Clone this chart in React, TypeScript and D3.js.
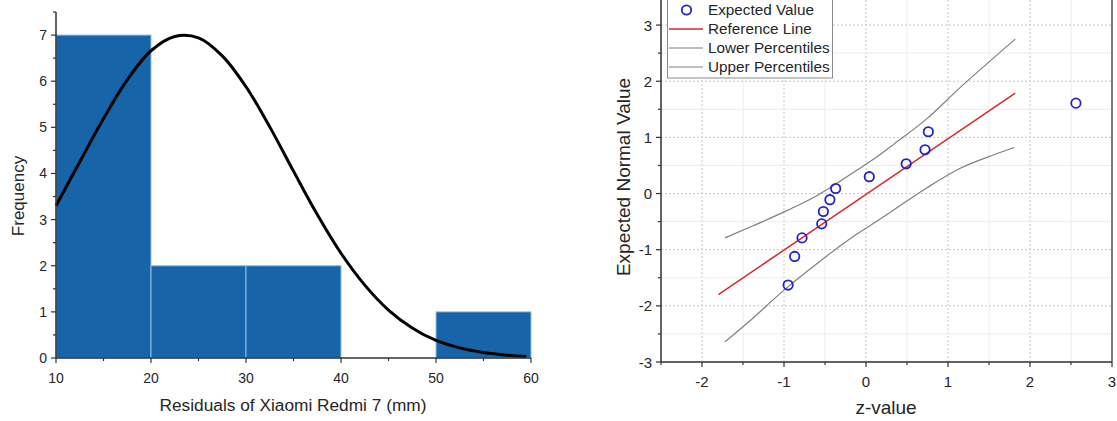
import * as d3 from 'd3';

// Histogram of residuals
const binStarts = [10, 20, 30, 40, 50];
const binEnds = [20, 30, 40, 50, 60];
const binCounts = [7, 2, 2, 0, 1];

// Normal curve drawn over the histogram
const curveX = [10, 12.5, 15, 17.5, 20, 22.5, 25, 27.5, 30, 32.5, 35, 37.5, 40, 42.5, 45, 47.5, 50, 52.5, 55, 57.5, 59.5];
const curveY = [3.3, 4.25, 5.19, 6.03, 6.66, 6.97, 6.94, 6.55, 5.88, 5.01, 4.05, 3.11, 2.27, 1.58, 1.04, 0.65, 0.38, 0.22, 0.12, 0.06, 0.03];

// Q-Q plot
const zValues = [-0.95, -0.87, -0.78, -0.54, -0.52, -0.44, -0.37, 0.04, 0.49, 0.72, 0.76, 2.56];
const expectedValues = [-1.63, -1.12, -0.79, -0.54, -0.32, -0.11, 0.09, 0.3, 0.53, 0.78, 1.1, 1.61];
const refX = [-1.8, 1.82];
const refY = [-1.8, 1.79];
const lowerX = [-1.72, -1.41, -1.0, -0.6, -0.19, 0.21, 0.74, 1.15, 1.56, 1.81];
const lowerY = [-2.64, -2.26, -1.72, -1.25, -0.8, -0.42, 0.1, 0.45, 0.69, 0.82];
const upperX = [-1.72, -1.37, -0.96, -0.64, -0.4, -0.15, 0.13, 0.34, 0.74, 1.15, 1.56, 1.82];
const upperY = [-0.79, -0.57, -0.3, -0.07, 0.14, 0.38, 0.65, 0.88, 1.33, 1.89, 2.42, 2.75];

const legendLabels = ['Expected Value', 'Reference Line', 'Lower Percentiles', 'Upper Percentiles'];

const FONT = 'Liberation Sans, Arial, sans-serif';
const AXIS = '#333';
const TEXT = '#262626';

const range = (a: number, b: number, step: number) => {
  const out: number[] = [];
  for (let v = a; v <= b + 1e-9; v += step) out.push(+v.toFixed(3));
  return out;
};

const Histogram = () => {
  const x = d3.scaleLinear().domain([10, 60]).range([56, 531]);
  const y = d3.scaleLinear().domain([0, 7.5]).range([358, 12]);

  const line = d3
    .line<number>()
    .x((_, i) => x(curveX[i]))
    .y((d) => y(d))
    .curve(d3.curveCatmullRom);

  return (
    <g fontFamily={FONT}>
      {binCounts.map((c, i) =>
        c > 0 ? (
          <rect
            key={i}
            x={x(binStarts[i])}
            y={y(c)}
            width={x(binEnds[i]) - x(binStarts[i])}
            height={y(0) - y(c)}
            fill='#1764a8'
            stroke='#8cc0ea'
            strokeWidth={1}
          />
        ) : null
      )}
      <path d={line(curveY) || ''} fill='none' stroke='#000' strokeWidth={3} />

      {/* y axis */}
      <line x1={x(10)} x2={x(10)} y1={y(0)} y2={y(7.5)} stroke={AXIS} strokeWidth={1.5} />
      {range(0, 7.5, 0.5).map((t) => {
        const major = Number.isInteger(t);
        return (
          <g key={'y' + t}>
            <line x1={x(10) - (major ? 5 : 3)} x2={x(10)} y1={y(t)} y2={y(t)} stroke={AXIS} strokeWidth={1.2} />
            {major && (
              <text x={x(10) - 9} y={y(t) + 5} fontSize={14} textAnchor='end' fill={TEXT}>
                {t}
              </text>
            )}
          </g>
        );
      })}

      {/* x axis */}
      <line x1={x(10)} x2={x(60)} y1={y(0)} y2={y(0)} stroke={AXIS} strokeWidth={1.5} />
      {range(10, 60, 5).map((t) => {
        const major = t % 10 === 0;
        return (
          <g key={'x' + t}>
            <line x1={x(t)} x2={x(t)} y1={y(0)} y2={y(0) + (major ? 5 : 3)} stroke={AXIS} strokeWidth={1.2} />
            {major && (
              <text x={x(t)} y={y(0) + 25} fontSize={14} textAnchor='middle' fill={TEXT}>
                {t}
              </text>
            )}
          </g>
        );
      })}

      <text x={293} y={411} fontSize={17.3} textAnchor='middle' fill={TEXT}>
        Residuals of Xiaomi Redmi 7 (mm)
      </text>
      <text transform='translate(24,196) rotate(-90)' fontSize={17} textAnchor='middle' fill={TEXT}>
        Frequency
      </text>
    </g>
  );
};

const QQPlot = () => {
  const x = d3.scaleLinear().domain([-2.5, 3]).range([661, 1112]);
  const y = d3.scaleLinear().domain([-3, 3.5]).range([362, -3]);

  const band = (xs: number[]) =>
    d3
      .line<number>()
      .x((_, i) => x(xs[i]))
      .y((d) => y(d))
      .curve(d3.curveMonotoneX);

  const xTicks = range(-2.5, 3, 0.5);
  const yTicks = range(-3, 3.5, 0.5);

  return (
    <g fontFamily={FONT}>
      {/* grid */}
      {xTicks.map((t) => {
        const major = Number.isInteger(t);
        return (
          <line
            key={'gx' + t}
            x1={x(t)}
            x2={x(t)}
            y1={y(-3)}
            y2={y(3.5)}
            stroke={major ? '#c8c8c8' : '#ececec'}
            strokeDasharray={major ? '2,2' : undefined}
            strokeWidth={1}
          />
        );
      })}
      {yTicks.map((t) => {
        const major = Number.isInteger(t);
        return (
          <line
            key={'gy' + t}
            x1={x(-2.5)}
            x2={x(3)}
            y1={y(t)}
            y2={y(t)}
            stroke={major ? '#c8c8c8' : '#ececec'}
            strokeDasharray={major ? '2,2' : undefined}
            strokeWidth={1}
          />
        );
      })}

      <path d={band(lowerX)(lowerY) || ''} fill='none' stroke='#808080' strokeWidth={1.2} />
      <path d={band(upperX)(upperY) || ''} fill='none' stroke='#808080' strokeWidth={1.2} />
      <path d={band(refX)(refY) || ''} fill='none' stroke='#d42a2a' strokeWidth={1.5} />

      {zValues.map((z, i) => (
        <circle key={i} cx={x(z)} cy={y(expectedValues[i])} r={4.7} fill='none' stroke='#2424c4' strokeWidth={1.8} />
      ))}

      {/* frame */}
      <line x1={x(-2.5)} x2={x(-2.5)} y1={y(-3)} y2={y(3.5)} stroke={AXIS} strokeWidth={1.5} />
      <line x1={x(3)} x2={x(3)} y1={y(-3)} y2={y(3.5)} stroke='#555' strokeWidth={1.5} />
      <line x1={x(-2.5)} x2={x(3)} y1={y(-3)} y2={y(-3)} stroke={AXIS} strokeWidth={1.5} />

      {yTicks.map((t) => {
        const major = Number.isInteger(t);
        return (
          <g key={'yt' + t}>
            <line x1={x(-2.5) - (major ? 5 : 3)} x2={x(-2.5)} y1={y(t)} y2={y(t)} stroke={AXIS} strokeWidth={1.2} />
            {major && (
              <text x={x(-2.5) - 9} y={y(t) + 5.5} fontSize={15} textAnchor='end' fill={TEXT}>
                {t}
              </text>
            )}
          </g>
        );
      })}
      {xTicks.map((t) => {
        const major = Number.isInteger(t);
        return (
          <g key={'xt' + t}>
            <line x1={x(t)} x2={x(t)} y1={y(-3)} y2={y(-3) + (major ? 5 : 3)} stroke={AXIS} strokeWidth={1.2} />
            {major && (
              <text x={x(t)} y={y(-3) + 25} fontSize={15} textAnchor='middle' fill={TEXT}>
                {t}
              </text>
            )}
          </g>
        );
      })}

      <text x={886} y={414} fontSize={19} textAnchor='middle' fill={TEXT}>
        z-value
      </text>
      <text transform='translate(630,177) rotate(-90)' fontSize={19} textAnchor='middle' fill={TEXT}>
        Expected Normal Value
      </text>

      {/* legend */}
      <rect x={667.5} y={-3} width={165} height={81} fill='#fff' stroke='#8a8a8a' strokeWidth={1} />
      {legendLabels.map((label, i) => {
        const ly = 10 + i * 19;
        return (
          <g key={label}>
            {i === 0 ? (
              <circle cx={686.5} cy={ly} r={4.7} fill='none' stroke='#2424c4' strokeWidth={1.8} />
            ) : (
              <line x1={669} x2={703} y1={ly} y2={ly} stroke={i === 1 ? '#d42a2a' : '#808080'} strokeWidth={i === 1 ? 1.5 : 1.2} />
            )}
            <text x={708} y={ly + 5.3} fontSize={15.3} fill={TEXT}>
              {label}
            </text>
          </g>
        );
      })}
    </g>
  );
};

const App = () => (
  <svg
    width={1117}
    height={421}
    style={{ position: 'absolute', left: 0, top: 0, background: '#fff' }}
  >
    <Histogram />
    <QQPlot />
  </svg>
);

export default App;
